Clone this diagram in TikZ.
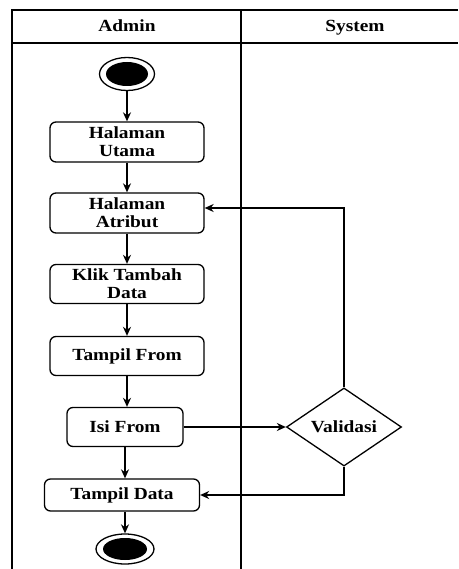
\documentclass[tikz,border=0pt]{standalone}
\usepackage{fontspec}
\setmainfont[FakeStretch=1.14]{Liberation Serif}
\usetikzlibrary{arrows.meta,shapes.geometric}
\tikzset{
  >={Stealth[length=9pt,width=8pt]},
  every node/.style={font=\fontsize{17}{18}\selectfont\bfseries},
  lane/.style={line width=1.7pt,draw=black},
  act/.style={draw,line width=1.3pt,rounded corners=6pt,align=center,inner sep=2pt},
  decide/.style={draw,diamond,line width=1.3pt,inner sep=0pt,minimum width=115pt,minimum height=71pt},
  flow/.style={->,line width=1.3pt},
}
\begin{document}
\begin{tikzpicture}[x=1pt,y=-1pt]
  \useasboundingbox (0,0) rectangle (458,569);
  % swimlanes
  \draw[lane] (458,10) -- (12,10) -- (12,569);
  \draw[lane] (12,43) -- (458,43);
  \draw[lane] (241,10) -- (241,569);
  \node[anchor=base] (admin) at (127,32) {Admin};
  \node[anchor=base] (system) at (355,32) {System};

  % start / end
  \node[draw,ellipse,line width=1.3pt,minimum width=55pt,minimum height=33pt] (start) at (127,74) {};
  \fill (start.center) ellipse (21pt and 12pt);
  \node[draw,ellipse,line width=1.3pt,minimum width=58pt,minimum height=30pt] (stop) at (125,549) {};
  \fill (stop.center) ellipse (22pt and 11pt);

  % activities
  \node[act,minimum width=154pt,minimum height=40pt] (utama) at (127,142) {Halaman\\Utama};
  \node[act,minimum width=154pt,minimum height=40pt] (atribut) at (127,213) {Halaman\\Atribut};
  \node[act,minimum width=154pt,minimum height=39pt] (tambah) at (127,284) {Klik Tambah\\Data};
  \node[act,minimum width=154pt,minimum height=39pt] (tampilfrom) at (127,356) {Tampil From};
  \node[act,minimum width=116pt,minimum height=39pt] (isifrom) at (125,427) {Isi From};
  \node[act,minimum width=155pt,minimum height=32pt] (tampildata) at (122,495) {Tampil Data};
  \node[decide] (validasi) at (344,427) {Validasi};

  \draw[flow] (start) -- (utama);
  \draw[flow] (utama) -- (atribut);
  \draw[flow] (atribut) -- (tambah);
  \draw[flow] (tambah) -- (tampilfrom);
  \draw[flow] (tampilfrom) -- (tampilfrom |- isifrom.north);
  \draw[flow] (isifrom.south) -- (tampildata.north -| isifrom.south);
  \draw[flow] (stop |- tampildata.south) -- (stop);
  \draw[flow] (isifrom) -- (validasi);
  \draw[flow] (validasi.north) |- ([yshift=5pt]atribut.east);
  \draw[flow] (validasi.south) |- (tampildata.east);
\end{tikzpicture}
\end{document}
